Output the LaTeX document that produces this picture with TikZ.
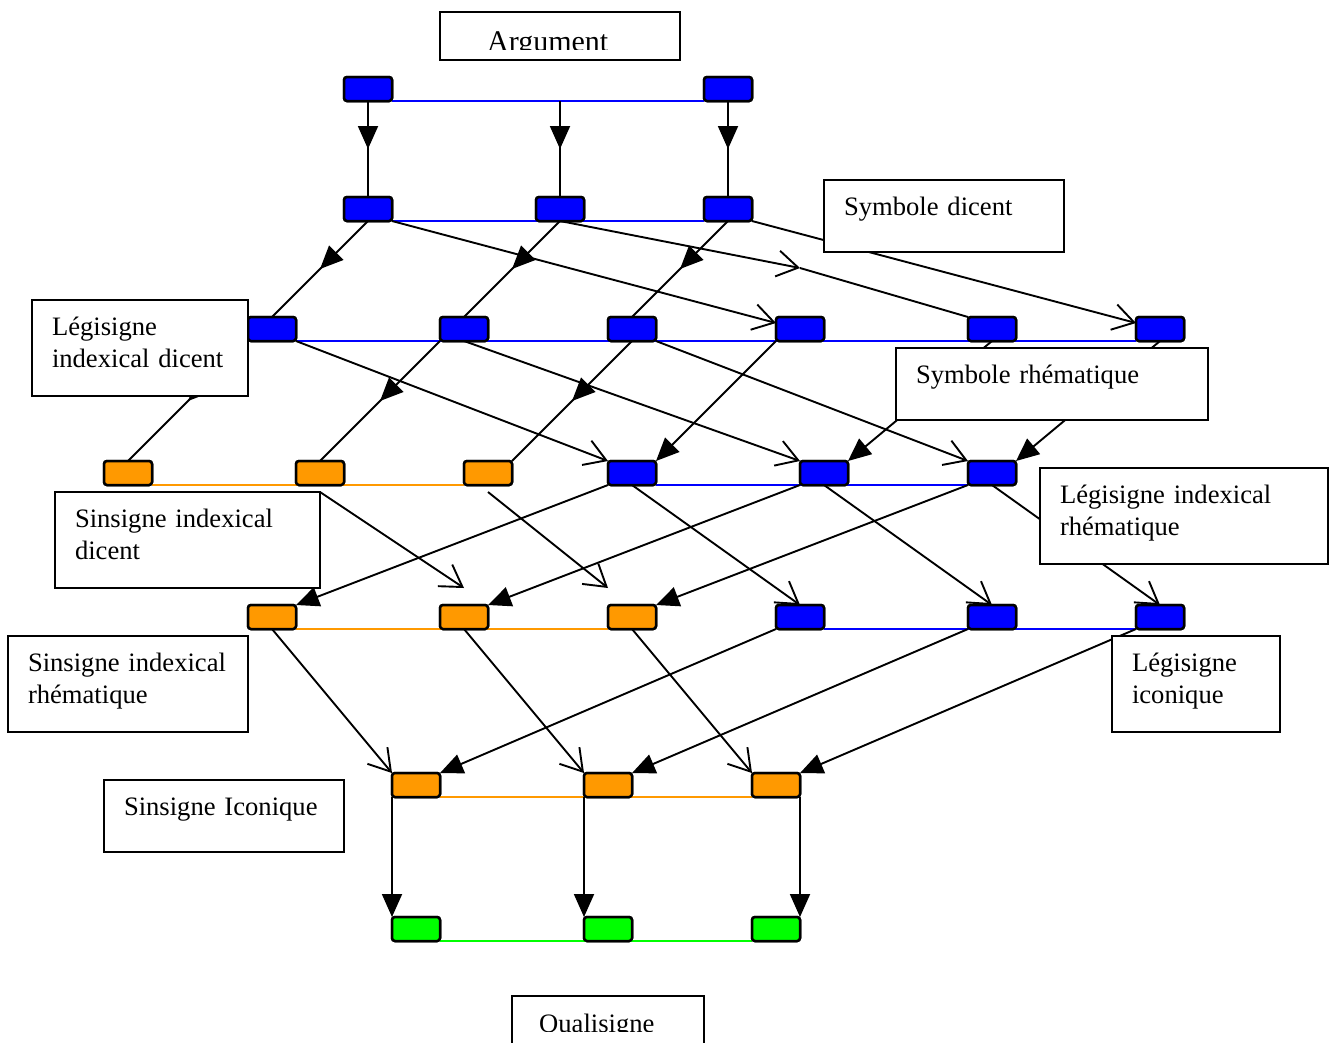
\documentclass[tikz,border=0pt]{standalone}
\usepackage{fontspec}
\setmainfont{Liberation Serif}
\usetikzlibrary{arrows.meta,decorations.markings}
\definecolor{xanh}{RGB}{0,0,255}
\definecolor{cam}{RGB}{255,153,0}
\definecolor{luc}{RGB}{0,255,0}
\newcommand{\chu}{\fontsize{26.6pt}{32pt}\selectfont}

\begin{document}
\begin{tikzpicture}[x=1pt,y=-1pt,
	hop/.style={draw, rounded corners=3pt, line width=2.5pt, minimum width=48pt, minimum height=24pt, inner sep=0pt, outer sep=0pt},
	hopx/.style={hop, fill=xanh},
	hopc/.style={hop, fill=cam},
	hopl/.style={hop, fill=luc},
	noi/.style={line width=1.9pt},
	mui/.style={noi, -{Triangle[length=23pt,width=20pt]}},
	muimo/.style={noi, -{Straight Barb[length=21pt,width=26pt]}},
	muigiua/.style={noi, decoration={markings, mark=at position 0.5 with {\arrow{Triangle[length=23pt,width=20pt]}}}, postaction={decorate}},
	nhan/.style={draw, fill=white, line width=1.8pt, anchor=north west, inner xsep=20pt, inner ysep=0pt, outer sep=0pt, align=left, text height=35pt, font=\chu}]
				\useasboundingbox (0,0) rectangle (1337,1042);
				%	hàng 1
				\node[hopx] (a1) at (368,89) {};
				\node[hopx] (a2) at (728,89) {};
				\coordinate (m1) at (560,101);
				%	hàng 2
				\node[hopx] (b1) at (368,209) {};
				\node[hopx] (b2) at (560,209) {};
				\node[hopx] (b3) at (728,209) {};
				\coordinate (m2) at (800,268);
				%	hàng 3
				\node[hopx] (c1) at (272,329) {};
				\node[hopx] (c2) at (464,329) {};
				\node[hopx] (c3) at (632,329) {};
				\node[hopx] (c4) at (800,329) {};
				\node[hopx] (c5) at (992,329) {};
				\node[hopx] (c6) at (1160,329) {};
				%	hàng 4
				\node[hopc] (d1) at (128,473) {};
				\node[hopc] (d2) at (320,473) {};
				\node[hopc] (d3) at (488,473) {};
				\node[hopx] (d4) at (632,473) {};
				\node[hopx] (d5) at (824,473) {};
				\node[hopx] (d6) at (992,473) {};
				%	hàng 5
				\node[hopc] (e1) at (272,617) {};
				\node[hopc] (e2) at (464,617) {};
				\node[hopc] (e3) at (632,617) {};
				\node[hopx] (e4) at (800,617) {};
				\node[hopx] (e5) at (992,617) {};
				\node[hopx] (e6) at (1160,617) {};
				%	hàng 6
				\node[hopc] (f1) at (416,785) {};
				\node[hopc] (f2) at (608,785) {};
				\node[hopc] (f3) at (776,785) {};
				%	hàng 7
				\node[hopl] (g1) at (416,929) {};
				\node[hopl] (g2) at (608,929) {};
				\node[hopl] (g3) at (776,929) {};
				
				%	đường màu
				\begin{scope}[line width=2pt]
				\draw[xanh] (a1.south east) -- (a2.south west);
				\draw[xanh] (b1.south east) -- (b3.south west);
				\draw[xanh] (c1.south east) -- (c6.south west);
				\draw[cam] (d1.south east) -- (d3.south west);
				\draw[xanh] (d4.south east) -- (d6.south west);
				\draw[cam] (e1.south east) -- (e3.south west);
				\draw[xanh] (e4.south east) -- (e6.south west);
				\draw[cam] (f1.south east) -- (f3.south west);
				\draw[luc] (g1.south east) -- (g3.south west);
				\end{scope}
				
				%	mũi tên
				\draw[muigiua] (a1.south) -- (b1.north);
				\draw[muigiua] (m1) -- (b2.north);
				\draw[muigiua] (a2.south) -- (b3.north);
				
				\draw[muigiua] (b1.south) -- (c1.north);
				\draw[muigiua] (b2.south) -- (c2.north);
				\draw[muigiua] (b3.south) -- (c3.north);
				\draw[muimo] (b1.south east) -- ([yshift=-6pt]c4.north west);
				\draw[muimo] (b2.south) -- (m2);
				\draw[noi] (m2) -- (c5.north west);
				\draw[muimo] (b3.south east) -- ([yshift=-6pt]c6.north west);
				
				\draw[muigiua] (c1.south west) -- (d1.north);
				\draw[muigiua] (c2.south west) -- (d2.north);
				\draw[muigiua] (c3.south) -- (d3.north east);
				\draw[mui] (c4.south west) -- (d4.north east);
				\draw[mui] (c5.south) -- (d5.north east);
				\draw[mui] (c6.south) -- (d6.north east);
				\draw[muimo] (c1.south east) -- (d4.north west);
				\draw[muimo] (c2.south) -- (d5.north west);
				\draw[muimo] (c3.south east) -- (d6.north west);
				
				\draw[muimo] ([yshift=-7pt]d2.south) -- ([yshift=17pt]e2.north);
				\draw[muimo] ([yshift=-7pt]d3.south) -- ([yshift=17pt]e3.north west);
				\draw[mui] (d4.south west) -- (e1.north east);
				\draw[mui] (d5.south west) -- (e2.north east);
				\draw[mui] (d6.south west) -- (e3.north east);
				\draw[muimo] (d4.south) -- (e4.north);
				\draw[muimo] (d5.south) -- (e5.north);
				\draw[muimo] (d6.south) -- (e6.north);
				
				\draw[muimo] (e1.south) -- (f1.north west);
				\draw[muimo] (e2.south) -- (f2.north west);
				\draw[muimo] (e3.south) -- (f3.north west);
				\draw[mui] (e4.south west) -- (f1.north east);
				\draw[mui] (e5.south west) -- (f2.north east);
				\draw[mui] (e6.south west) -- (f3.north east);
				
				\draw[mui] (f1.south west) -- (g1.north west);
				\draw[mui] (f2.south west) -- (g2.north west);
				\draw[mui] (f3.south east) -- (g3.north east);
				
				%	vẽ lại các hộp
				\foreach \h in {a1,a2,b1,b2,b3,c1,c2,c3,c4,c5,c6,d4,d5,d6,e4,e5,e6}
					\node[hopx] at (\h) {};
				\foreach \h in {d1,d2,d3,e1,e2,e3,f1,f2,f3}
					\node[hopc] at (\h) {};
				\foreach \h in {g1,g2,g3}
					\node[hopl] at (\h) {};
				
				%	nhãn
				\node[nhan, minimum width=240pt, minimum height=48pt] (arg) at (440,12) {};
				\begin{scope}
				\clip (440,12) rectangle (680,49);
				\node[anchor=base west, inner sep=0pt, font=\fontsize{30pt}{36pt}\selectfont] (argchu) at (487,51) {Argument};
				\end{scope}
				\node[nhan, text width=200pt, text depth=37pt] (sd) at (824,180) {Symbole dicent};
				\node[nhan, text width=176pt, text depth=61pt] (lid) at (32,300) {Légisigne\\indexical dicent};
				\node[nhan, text width=272pt, text depth=37pt] (sr) at (896,348) {Symbole rhématique};
				\node[nhan, text width=248pt, text depth=61pt] (lir) at (1040,468) {Légisigne indexical\\rhématique};
				\node[nhan, text width=225pt, text depth=61pt] (sid) at (55,492) {Sinsigne indexical\\dicent};
				\node[nhan, text width=200pt, text depth=61pt] (sir) at (8,636) {Sinsigne indexical\\rhématique};
				\node[nhan, text width=128pt, text depth=61pt] (lic) at (1112,636) {Légisigne\\iconique};
				\node[nhan, text width=200pt, text depth=37pt] (sic) at (104,780) {Sinsigne Iconique};
				\node[nhan, minimum width=192pt, minimum height=60pt] (qual) at (512,996) {};
				\begin{scope}
				\clip (512,996) rectangle (704,1031);
				\node[anchor=base west, inner sep=0pt, font=\chu] (qualchu) at (539,1032) {Qualisigne};
				\end{scope}
			\end{tikzpicture}
\end{document}
